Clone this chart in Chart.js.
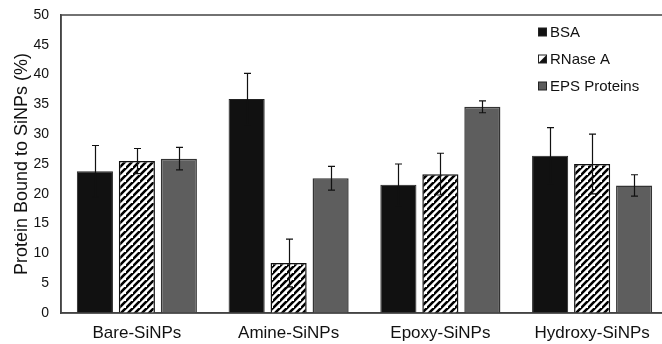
<!DOCTYPE html>
<html><head><meta charset="utf-8">
<script src="https://cdn.jsdelivr.net/npm/chart.js@4.4.0/dist/chart.umd.min.js"></script>
<style>html,body{margin:0;padding:0;overflow:hidden;background:#fff}#wrap{width:670px;height:344px;position:relative}</style>
</head><body><div id="wrap"><canvas id="c" width="670" height="344"></canvas></div>
<script>
const categories = ["Bare-SiNPs", "Amine-SiNPs", "Epoxy-SiNPs", "Hydroxy-SiNPs"];
const seriesNames = ["BSA", "RNase A", "EPS Proteins"];
const bsa = [23.8, 35.9, 21.5, 26.4];
const rnase = [25.5, 8.4, 23.3, 25.0];
const eps = [25.9, 22.6, 34.6, 21.4];
const bsaErr = [4.3, 4.3, 3.5, 4.7];
const rnaseErr = [2.1, 4.0, 3.5, 5.0];
const epsErr = [1.9, 2.0, 1.0, 1.8];
const yTicks = [0, 5, 10, 15, 20, 25, 30, 35, 40, 45, 50];

const FONT = "'Liberation Sans', Arial, sans-serif";

function hatch() {
  const s = 7;
  const c = document.createElement('canvas');
  c.width = s; c.height = s;
  const x = c.getContext('2d');
  x.fillStyle = '#fff'; x.fillRect(0, 0, s, s);
  x.strokeStyle = '#000'; x.lineWidth = 2.6;
  x.beginPath();
  x.moveTo(-1, s + 1); x.lineTo(s + 1, -1);
  x.moveTo(-s - 1, s + 1); x.lineTo(1, -1);
  x.moveTo(s - 1, 2 * s + 1); x.lineTo(2 * s + 1, s - 1);
  x.stroke();
  return document.getElementById('c').getContext('2d').createPattern(c, 'repeat');
}
const hatchPat = hatch();

const errs = [bsaErr, rnaseErr, epsErr];

const errorBars = {
  id: 'errorBars',
  afterDatasetsDraw(chart) {
    const ctx = chart.ctx, y = chart.scales.y;
    ctx.save();
    ctx.strokeStyle = '#111'; ctx.lineWidth = 1.2;
    chart.data.datasets.forEach((ds, i) => {
      const meta = chart.getDatasetMeta(i);
      meta.data.forEach((bar, j) => {
        const v = ds.data[j], e = errs[i][j];
        const x = Math.round(bar.x) + 0.5;
        const yt = y.getPixelForValue(v + e), yb = y.getPixelForValue(v - e);
        ctx.beginPath();
        ctx.moveTo(x, yt); ctx.lineTo(x, yb);
        ctx.moveTo(x - 3.5, yt); ctx.lineTo(x + 3.5, yt);
        ctx.moveTo(x - 3.5, yb); ctx.lineTo(x + 3.5, yb);
        ctx.stroke();
      });
    });
    ctx.restore();
  }
};

const frame = {
  id: 'frame',
  afterDraw(chart) {
    const ctx = chart.ctx, a = chart.chartArea;
    ctx.save();
    ctx.strokeStyle = '#444'; ctx.lineWidth = 1.5;
    ctx.strokeRect(a.left, a.top, a.right - a.left, a.bottom - a.top);
    // legend
    const ys = [32, 59, 86];
    const lx = 538.5, sz = 8;
    ctx.font = '15px ' + FONT;
    ctx.textBaseline = 'middle';
    seriesNames.forEach((n, i) => {
      const t = ys[i] - sz / 2;
      if (i === 0) {
        ctx.fillStyle = '#111'; ctx.fillRect(lx, t, sz, sz);
      } else if (i === 1) {
        ctx.fillStyle = '#fff'; ctx.fillRect(lx, t, sz, sz);
        ctx.fillStyle = '#111';
        ctx.beginPath(); ctx.moveTo(lx + sz, t); ctx.lineTo(lx + sz, t + sz); ctx.lineTo(lx, t + sz); ctx.closePath(); ctx.fill();
      } else {
        ctx.fillStyle = '#5c5c5c'; ctx.fillRect(lx, t, sz, sz);
      }
      ctx.strokeStyle = '#222'; ctx.lineWidth = 1;
      ctx.strokeRect(lx, t, sz, sz);
      ctx.fillStyle = '#111';
      ctx.fillText(n, 550, ys[i] + 0.5);
    });
    ctx.restore();
  }
};

function zeroPad(s) { s.paddingTop = 0; s.paddingBottom = 0; s.paddingLeft = 0; s.paddingRight = 0; }

new Chart(document.getElementById('c'), {
  type: 'bar',
  data: {
    labels: categories,
    datasets: [
      { label: seriesNames[0], data: bsa, backgroundColor: '#111', borderColor: '#222', borderWidth: 1 },
      { label: seriesNames[1], data: rnase, backgroundColor: hatchPat, borderColor: '#111', borderWidth: 1.5 },
      { label: seriesNames[2], data: eps, backgroundColor: '#5e5e5e', borderColor: '#333', borderWidth: 1.5 }
    ]
  },
  options: {
    responsive: false,
    animation: false,
    layout: { padding: { top: 15, right: 2, left: 0, bottom: 0 } },
    datasets: { bar: { categoryPercentage: 0.83, barPercentage: 0.86 } },
    plugins: { legend: { display: false }, tooltip: { enabled: false } },
    scales: {
      x: {
        grid: { display: false, drawTicks: false },
        border: { display: true, color: '#444', width: 1.5 },
        ticks: { color: '#111', font: { family: FONT, size: 17 }, padding: 10 },
        afterFit(s) { s.height = 31; zeroPad(s); }
      },
      y: {
        min: 0, max: 50,
        afterBuildTicks(s) { s.ticks = yTicks.map(v => ({ value: v })); },
        grid: { display: false, drawTicks: false },
        border: { display: true, color: '#444', width: 1.5 },
        ticks: { color: '#111', font: { family: FONT, size: 14 }, padding: 12 },
        title: { display: true, text: 'Protein Bound to SiNPs (%)', color: '#111', font: { family: FONT, size: 18 }, padding: { top: 11, bottom: 0 } },
        afterFit(s) { s.width = 61; zeroPad(s); }
      }
    }
  },
  plugins: [errorBars, frame]
});
</script></body></html>
